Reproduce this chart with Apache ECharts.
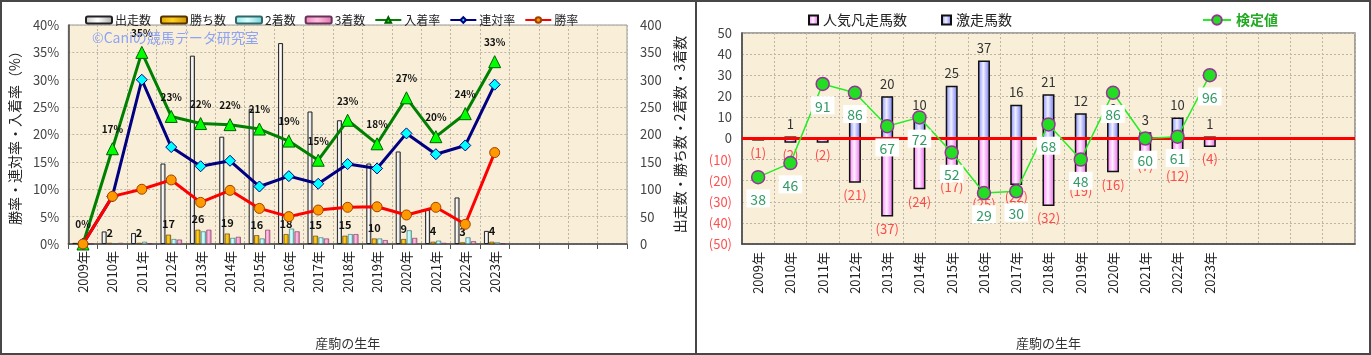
<!DOCTYPE html>
<html><head><meta charset="utf-8">
<script src="https://cdn.jsdelivr.net/npm/echarts@6/dist/echarts.min.js"></script>
<style>
html,body{margin:0;padding:0;background:#fff;}
#wrap{position:relative;width:1371px;height:355px;overflow:hidden;background:#fff;}
#c1{position:absolute;left:0;top:0;width:696px;height:355px;}
#c2{position:absolute;left:697px;top:0;width:674px;height:355px;}
.bd{position:absolute;background:#474747;}
</style></head>
<body><div id="wrap"><div id="c1"></div><div id="c2"></div>
<div class="bd" style="left:0;top:0;width:1371px;height:2px"></div>
<div class="bd" style="left:0;top:353px;width:1371px;height:2px"></div>
<div class="bd" style="left:0;top:0;width:2px;height:355px"></div>
<div class="bd" style="left:1369px;top:0;width:2px;height:355px"></div>
<div class="bd" style="left:695px;top:0;width:2px;height:355px"></div>
</div>
<script>
// ---- data ----
const years = ['2009年','2010年','2011年','2012年','2013年','2014年','2015年','2016年','2017年','2018年','2019年','2020年','2021年','2022年','2023年'];
const emptySlots = ['', '', '', ''];
// left chart
const runs    = [2, 23, 20, 147, 344, 196, 247, 367, 242, 226, 147, 169, 62, 85, 24];
const wins    = [0, 2, 2, 17, 26, 19, 16, 18, 15, 15, 10, 9, 4, 3, 4];
const seconds = [0, 0, 4, 9, 23, 11, 10, 28, 12, 18, 10, 25, 6, 12, 3];
const thirds  = [0, 2, 1, 8, 26, 13, 26, 23, 10, 18, 7, 11, 2, 5, 1];
const placeRate = [0, 17.4, 35.0, 23.3, 22.0, 21.8, 21.0, 18.8, 15.3, 22.6, 18.3, 26.7, 19.6, 23.8, 33.3];
const rentaiRate = [0, 8.7, 30.0, 17.7, 14.2, 15.2, 10.5, 12.4, 11.0, 14.6, 13.8, 20.2, 16.4, 18.0, 29.1];
const winRate = [0, 8.7, 10.0, 11.7, 7.6, 9.8, 6.5, 5.0, 6.2, 6.7, 6.8, 5.3, 6.7, 3.6, 16.7];
// right chart
const hotRuns  = [0, 1, 0, 15, 20, 10, 25, 37, 16, 21, 12, 8, 3, 10, 1];
const flopRuns = [-1, -2, -2, -21, -37, -24, -17, -25, -22, -32, -19, -16, -7, -12, -4];
const testValue = [38, 46, 91, 86, 67, 72, 52, 29, 30, 68, 48, 86, 60, 61, 96];

const FONT = "'Noto Sans CJK JP', 'Liberation Sans', sans-serif";
const cats = years.concat(emptySlots);
const plotBg = '#f9efd9';
const G = echarts.graphic.LinearGradient;
function hgrad(a, b, c) { return new G(0, 0, 1, 0, [{offset:0,color:a},{offset:0.45,color:b},{offset:1,color:c}]); }

// ---------- left chart ----------
const c1 = echarts.init(document.getElementById('c1'), null, {renderer:'canvas'});
const splitDash = {show:true, lineStyle:{color:'#bdb5a5', type:[2,2], width:1}};
c1.setOption({
  animation:false,
  textStyle:{fontFamily:FONT},
  legend:{
    top:9, left:80, itemWidth:26, itemHeight:7, itemGap:9,
    textStyle:{fontSize:12, color:'#222', fontFamily:FONT, padding:[0,0,0,-2]},
    data:['出走数','勝ち数','2着数','3着数','入着率','連対率','勝率']
  },
  graphic:[{type:'text', left:92, top:31, z:100,
    style:{text:'©Caniの競馬データ研究室', fill:'#8fa3f3', font:'14px '+FONT}}],
  grid:{left:67, top:25, width:560, height:220, show:true, backgroundColor:plotBg, borderColor:'#999', borderWidth:1},
  xAxis:{
    type:'category', data:cats,
    name:'産駒の生年', nameLocation:'middle', nameGap:93,
    nameTextStyle:{fontSize:13, color:'#333', fontFamily:FONT},
    axisLine:{lineStyle:{color:'#444', width:1.5}},
    axisTick:{show:true, length:5, lineStyle:{color:'#555'}},
    axisLabel:{rotate:90, fontSize:13, color:'#222', margin:7, interval:0},
    splitLine:splitDash
  },
  yAxis:[{
    type:'value', min:0, max:40, interval:5,
    name:'勝率・連対率・入着率（%）', nameLocation:'middle', nameRotate:90, nameGap:38,
    nameTextStyle:{fontSize:14, color:'#222', fontFamily:FONT},
    axisLine:{show:true, lineStyle:{color:'#444', width:1.5}},
    axisTick:{show:false},
    axisLabel:{formatter:'{value}%', fontSize:13, color:'#444', margin:9},
    splitLine:splitDash
  },{
    type:'value', min:0, max:400, interval:50, position:'right',
    name:'出走数・勝ち数・2着数・3着数', nameLocation:'middle', nameRotate:90, nameGap:40,
    nameTextStyle:{fontSize:14, color:'#222', fontFamily:FONT},
    axisLine:{show:false}, axisTick:{show:false},
    axisLabel:{fontSize:13, color:'#444', margin:13},
    splitLine:{show:false}
  }],
  series:[
    {name:'出走数', type:'bar', yAxisIndex:1, data:runs, barWidth:5, barGap:'10%', barCategoryGap:'25%',
     itemStyle:{color:hgrad('#c8c8c8','#ffffff','#a8a8a8'), borderColor:'#222', borderWidth:1}},
    {name:'勝ち数', type:'bar', yAxisIndex:1, data:wins, barWidth:5,
     itemStyle:{color:hgrad('#e0a800','#ffd020','#c89000'), borderColor:'#553300', borderWidth:0.6},
     label:{show:true, position:'top', distance:5, fontSize:11, fontWeight:'bold', color:'#111',
            formatter:p=>p.value ? String(p.value) : ''}},
    {name:'2着数', type:'bar', yAxisIndex:1, data:seconds, barWidth:5,
     itemStyle:{color:hgrad('#90e8e8','#d8ffff','#70d0d8'), borderColor:'#336666', borderWidth:0.6}},
    {name:'3着数', type:'bar', yAxisIndex:1, data:thirds, barWidth:5,
     itemStyle:{color:hgrad('#f080c0','#ffc0e0','#e070b0'), borderColor:'#663355', borderWidth:0.6}},
    {name:'入着率', type:'line', yAxisIndex:0, data:placeRate, z:5,
     lineStyle:{color:'#008000', width:3}, symbol:'triangle', symbolSize:12,
     itemStyle:{color:'#00ff00', borderColor:'#006000', borderWidth:1},
     label:{show:true, position:'top', distance:8, fontSize:10, fontWeight:'bold', color:'#111',
            formatter:p=>Math.round(p.value)+'%'}},
    {name:'連対率', type:'line', yAxisIndex:0, data:rentaiRate, z:6,
     lineStyle:{color:'#000080', width:3}, symbol:'diamond', symbolSize:11,
     itemStyle:{color:'#00ffff', borderColor:'#000080', borderWidth:1}},
    {name:'勝率', type:'line', yAxisIndex:0, data:winRate, z:7,
     lineStyle:{color:'#ff0000', width:3}, symbol:'circle', symbolSize:10,
     itemStyle:{color:'#ff9900', borderColor:'#a04000', borderWidth:1}}
  ]
});

// ---------- right chart ----------
const c2 = echarts.init(document.getElementById('c2'), null, {renderer:'canvas'});
c2.setOption({
  animation:false,
  textStyle:{fontFamily:FONT},
  legend:[{
    top:8, left:106, itemWidth:9, itemHeight:9, itemGap:34,
    textStyle:{fontSize:14, color:'#222', fontFamily:FONT},
    data:[{name:'人気凡走馬数', icon:'rect'},{name:'激走馬数', icon:'rect'}]
  },{
    top:8, left:500, itemWidth:28, itemHeight:12,
    textStyle:{fontSize:14, color:'#22aa22', fontWeight:'bold', fontFamily:FONT},
    data:['検定値']
  }],
  grid:{left:45, top:33, width:613, height:211, show:true, backgroundColor:plotBg, borderColor:'#888', borderWidth:1.5},
  xAxis:{
    type:'category', data:cats,
    name:'産駒の生年', nameLocation:'middle', nameGap:93,
    nameTextStyle:{fontSize:13, color:'#333', fontFamily:FONT},
    axisLine:{onZero:false, lineStyle:{color:'#444', width:1.5}},
    axisTick:{show:false},
    axisLabel:{rotate:90, fontSize:13, color:'#222', margin:8, interval:0},
    splitLine:splitDash
  },
  yAxis:[{
    type:'value', min:-50, max:50, interval:10,
    axisLine:{show:true, onZero:false, lineStyle:{color:'#444', width:1.5}},
    axisTick:{show:false},
    axisLabel:{fontSize:13, margin:10,
      formatter:v=> v < 0 ? '(' + (-v) + ')' : String(v),
      color:v=> v < 0 ? '#ff5050' : '#444'},
    splitLine:splitDash
  },{
    type:'value', min:0, max:120, show:false, splitLine:{show:false}
  }],
  series:[
    {name:'人気凡走馬数', type:'bar', data:flopRuns, barWidth:12, barGap:'-100%',
     itemStyle:{color:hgrad('#ff70ff','#fff0ff','#e860e8'), borderColor:'#111', borderWidth:1.5},
     label:{show:true, position:'bottom', distance:6, fontSize:13, color:'#ff4a4a',
            formatter:p=>'(' + (-p.value) + ')'}},
    {name:'激走馬数', type:'bar', data:hotRuns, barWidth:12,
     itemStyle:{color:hgrad('#8088ff','#f0f0ff','#6a70f0'), borderColor:'#111', borderWidth:1.5},
     label:{show:true, position:'top', distance:6, fontSize:13, color:'#333',
            formatter:p=>p.value ? String(p.value) : ''},
     markLine:{silent:true, symbol:'none', z:3, label:{show:false},
       lineStyle:{color:'#ff0000', width:3, type:'solid'}, data:[{yAxis:0}]}},
    {name:'検定値', type:'line', yAxisIndex:1, data:testValue, z:10,
     lineStyle:{color:'#22ee22', width:1.5}, symbol:'circle', symbolSize:13,
     itemStyle:{color:'#22dd22', borderColor:'#993399', borderWidth:1.5},
     label:{show:true, position:'bottom', distance:5, fontSize:14, color:'#339966',
            backgroundColor:'#ffffff', padding:[3,4,1,4]}}
  ]
});
</script>
</body></html>
